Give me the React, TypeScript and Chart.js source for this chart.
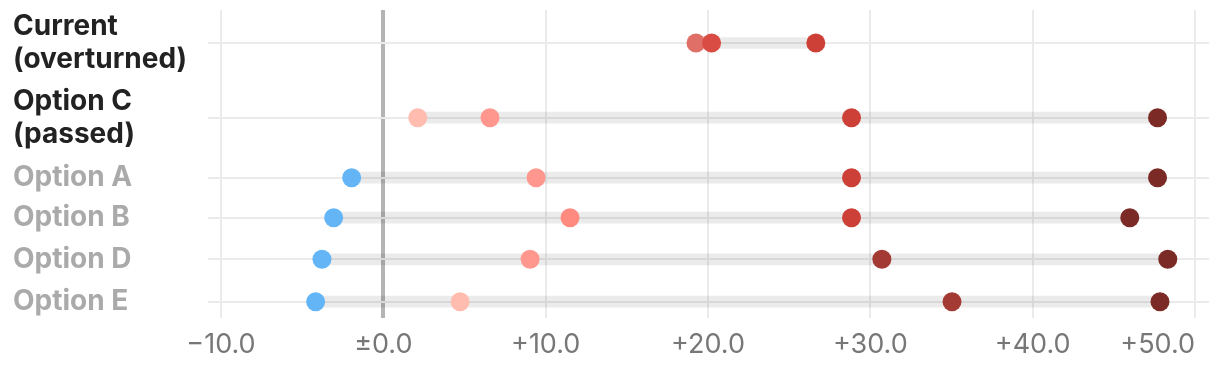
import { useEffect, useRef } from 'react';
import { Chart, registerables } from 'chart.js';

Chart.register(...registerables);

// Row labels (top to bottom)
const categories: (string | string[])[] = [
  ['Current', '(overturned)'],
  ['Option C', '(passed)'],
  'Option A',
  'Option B',
  'Option D',
  'Option E',
];
// Row positions on the (uneven) vertical axis
const rowPositions = [0, 7.47, 13.47, 17.47, 21.63, 25.87];

// Dot values per row
const series1 = [19.26, 2.12, -1.95, -3.06, -3.78, -4.17];
const series2 = [20.22, 6.57, 9.41, 11.5, 9.04, 4.73];
const series3 = [26.64, 28.84, 28.84, 28.84, 30.71, 35.03];
const series4: (number | null)[] = [null, 47.69, 47.69, 45.98, 48.32, 47.84];

const xTickValues = [-10, 0, 10, 20, 30, 40, 50];
const X_MIN = -10.8;
const X_MAX = 50.86;

const allSeries = [series1, series2, series3, series4];

function colorFor(v: number | undefined): string {
  if (v == null) return '#cc4038';
  if (v < 0) return '#64b5f6';
  if (v < 5) return '#ffbcaf';
  if (v < 11) return '#ff978e';
  if (v < 15) return '#ff8a80';
  if (v < 19.8) return '#e06f68';
  if (v < 22) return '#d94c44';
  if (v < 30) return '#cc4038';
  if (v < 40) return '#a33a33';
  return '#7b2a25';
}

function fmt(v: number): string {
  if (v === 0) return '±0.0';
  return (v > 0 ? '+' : '\u2212') + Math.abs(v).toFixed(1);
}

export default function App() {
  const ref = useRef<HTMLCanvasElement>(null);

  useEffect(() => {
    if (!ref.current) return;

    const bands = categories.map((_, i) => {
      const vals = allSeries.map((s) => s[i]).filter((v) => v != null) as number[];
      return { x: [Math.min(...vals), Math.max(...vals)], y: rowPositions[i] };
    });

    const pointDatasets = allSeries.map((s, k) => ({
      type: 'scatter' as const,
      data: s
        .map((v, i) => (v == null ? null : { x: v, y: rowPositions[i] }))
        .filter((p) => p !== null),
      backgroundColor: (ctx: any) => colorFor(ctx.raw?.x),
      pointBackgroundColor: (ctx: any) => colorFor(ctx.raw?.x),
      pointRadius: 9.5,
      pointHoverRadius: 9.5,
      borderWidth: 0,
      pointBorderWidth: 0,
      order: allSeries.length - k,
    }));

    const chart = new Chart(ref.current, {
      type: 'bar',
      data: {
        datasets: [
          ...(pointDatasets as any[]),
          {
            type: 'bar',
            data: bands as any,
            backgroundColor: 'rgba(0,0,0,0.08)',
            borderWidth: 0,
            barThickness: 11,
            order: 10,
          },
        ],
      },
      options: {
        indexAxis: 'y',
        animation: false,
        responsive: true,
        maintainAspectRatio: false,
        layout: { autoPadding: false, padding: { left: 5, top: 2, right: 3, bottom: 0 } },
        plugins: { legend: { display: false }, tooltip: { enabled: false } },
        scales: {
          x: {
            type: 'linear',
            min: X_MIN,
            max: X_MAX,
            offset: false,
            afterBuildTicks: (axis: any) => {
              axis.ticks = [{ value: X_MIN }, ...xTickValues.map((v) => ({ value: v }))];
            },
            afterFit: (axis: any) => {
              axis.height = 46;
              axis.paddingLeft = 0;
              axis.paddingRight = 0;
            },
            border: { display: false },
            grid: {
              offset: false,
              drawTicks: false,
              color: (ctx: any) =>
                ctx.tick && ctx.tick.value === 0
                  ? '#b4b4b4'
                  : ctx.tick && ctx.tick.value < -10.01
                  ? 'rgba(0,0,0,0)'
                  : '#ebebeb',
              lineWidth: (ctx: any) => (ctx.tick && ctx.tick.value === 0 ? 4 : 2),
            },
            ticks: {
              align: 'inner',
              autoSkip: false,
              maxRotation: 0,
              minRotation: 0,
              padding: 11,
              color: '#777777',
              font: { family: 'Inter', size: 27, weight: 'normal' },
              callback: (v: any) => (Number(v) < -10.01 ? '' : fmt(Number(v))),
            },
          },
          y: {
            type: 'linear',
            reverse: true,
            min: -3.3,
            max: 27.5,
            offset: false,
            afterBuildTicks: (axis: any) => {
              axis.ticks = rowPositions.map((v) => ({ value: v }));
            },
            afterFit: (axis: any) => {
              axis.width = 195;
              axis.paddingTop = 0;
              axis.paddingBottom = 0;
            },
            border: { display: false },
            grid: { offset: false, drawTicks: false, color: '#ebebeb', lineWidth: 2 },
            ticks: {
              autoSkip: false,
              crossAlign: 'far',
              padding: 0,
              color: (ctx: any) => (ctx.index < 2 ? '#222222' : '#aaaaaa'),
              font: { family: 'Inter', size: 28, weight: 'bold', lineHeight: 1.17 },
              callback: (_v: any, i: number) => categories[i] as any,
            },
          },
        },
      },
    } as any);

    return () => chart.destroy();
  }, []);

  return (
    <div style={{ position: 'relative', width: '100%', height: '356px' }}>
      <canvas ref={ref} />
    </div>
  );
}
